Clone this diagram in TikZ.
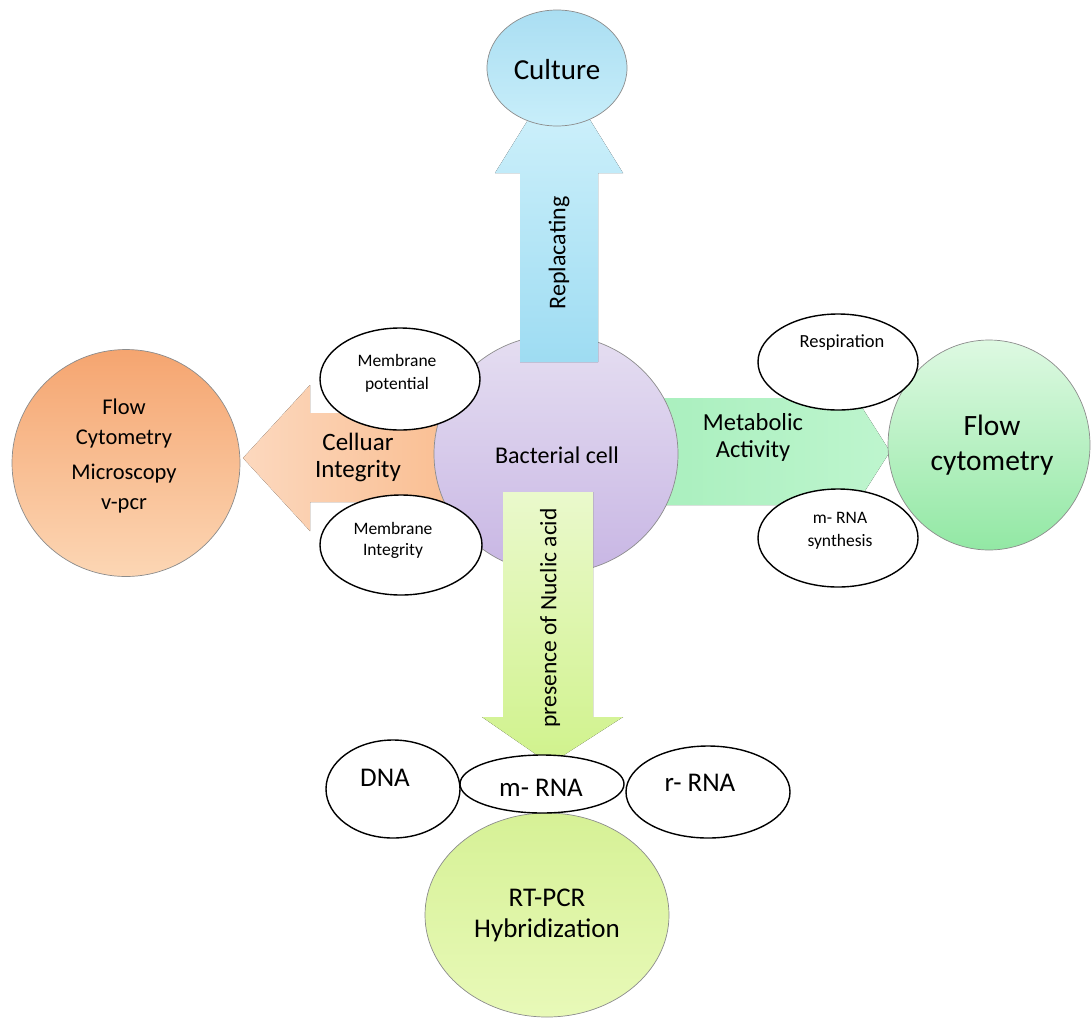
\documentclass[tikz,border=0pt]{standalone}
\usepackage{fontspec}
\setmainfont{Carlito}
\usetikzlibrary{shapes.geometric}
\newcommand{\fsz}[2]{\fontsize{#1}{#2}\selectfont}
\begin{document}
\begin{tikzpicture}[x=1pt,y=-1pt,
  bubble/.style={ellipse, draw=black, line width=1.4pt, fill=white, inner sep=0pt},
  colblob/.style={ellipse, draw=black!45, line width=0.7pt, inner sep=0pt, align=center},
  blockarrow/.style={draw=none},
  lbl/.style={inner sep=0pt, align=center, text=black}]
\fill[white] (0,0) rectangle (1091,1017);
\useasboundingbox (0,0) rectangle (1091,1017);

% arrows behind the cell
\fill[left color={rgb,255:red,252;green,216;blue,190}, right color={rgb,255:red,249;green,188;blue,142}, blockarrow]
  (243,458) -- (310,385) -- (310,413) -- (470,413) -- (470,502) -- (310,502) -- (310,531) -- cycle;
\fill[left color={rgb,255:red,168;green,239;blue,189}, right color={rgb,255:red,190;green,245;blue,206}, blockarrow]
  (640,398) -- (856,398) -- (890,451.5) -- (856,505) -- (640,505) -- cycle;

% big coloured circles
\node[colblob, minimum width=228pt, minimum height=227pt, top color={rgb,255:red,245;green,165;blue,112}, bottom color={rgb,255:red,252;green,214;blue,180}] (flowL) at (126,463) {};
\node[colblob, minimum width=202pt, minimum height=210pt, top color={rgb,255:red,222;green,249;blue,226}, bottom color={rgb,255:red,146;green,232;blue,164}] (flowR) at (989,445) {};
\node[colblob, minimum width=244pt, minimum height=238pt, top color={rgb,255:red,229;green,222;blue,241}, bottom color={rgb,255:red,200;green,182;blue,228}] (cell) at (556,454) {};

% up arrow
\fill[top color={rgb,255:red,212;green,243;blue,252}, bottom color={rgb,255:red,158;green,220;blue,242}, blockarrow]
  (520,362) -- (520,173) -- (495,173) -- (559,70) -- (623,173) -- (598,173) -- (598,362) -- cycle;
\node[colblob, minimum width=140pt, minimum height=116pt, top color={rgb,255:red,170;green,222;blue,242}, bottom color={rgb,255:red,200;green,238;blue,250}] (culture) at (557,68) {};

% down arrow
\fill[top color={rgb,255:red,234;green,249;blue,204}, bottom color={rgb,255:red,208;green,242;blue,140}, blockarrow]
  (503,492) -- (503,717) -- (482,717) -- (550,764) -- (623,717) -- (593,717) -- (593,492) -- cycle;
\node[colblob, minimum width=244pt, minimum height=204pt, top color={rgb,255:red,214;green,241;blue,150}, bottom color={rgb,255:red,232;green,249;blue,184}] (rtpcr) at (547,915) {};

% white bubbles
\node[bubble, minimum width=160pt, minimum height=102pt] (mempot) at (400,379) {};
\node[bubble, minimum width=162pt, minimum height=100pt] (memint) at (401,545) {};
\node[bubble, minimum width=160pt, minimum height=96pt] (resp) at (838,362) {};
\node[bubble, minimum width=160pt, minimum height=98pt] (mrnasyn) at (838,538) {};
\node[bubble, minimum width=134pt, minimum height=98pt] (dna) at (393,789) {};
\node[bubble, minimum width=164pt, minimum height=92pt] (rrna) at (708,792) {};
\node[bubble, minimum width=164pt, minimum height=58pt] (mrna) at (542,784) {};

% texts
\node[lbl, font=\fsz{29}{34}] (tCulture) at (557,70) {Culture};
\node[lbl, rotate=90, font=\fsz{24}{28}] (tRepl) at (559,253) {Replacating};
\node[lbl, font=\fsz{22.5}{30}] (tFlowL) at (124,456) {Flow\\Cytometry\\[5pt]Microscopy\\v-pcr};
\node[lbl, font=\fsz{24}{28}] (tCell) at (557,455) {Bacterial cell};
\node[lbl, font=\fsz{25}{27}] (tCellInt) at (358,457) {Celluar\\Integrity};
\node[lbl, font=\fsz{24.5}{27}] (tMeta) at (753,437) {Metabolic\\Activity};
\node[lbl, font=\fsz{29.5}{35}] (tFlowR) at (992,445) {Flow\\cytometry};
\node[lbl, rotate=90, font=\fsz{23.5}{28}] (tNuc) at (550,618) {presence of Nuclic acid};
\node[lbl, font=\fsz{27}{31}] (tRT) at (547,915) {RT-PCR\\Hybridization};
\node[lbl, font=\fsz{27}{31}] (tDNA) at (385,778) {DNA};
\node[lbl, font=\fsz{27}{31}] (tmRNA) at (541,788) {m- RNA};
\node[lbl, font=\fsz{27}{31}] (trRNA) at (700,783) {r- RNA};
\node[lbl, font=\fsz{18.5}{22}] (tResp) at (842,343) {Respiration};
\node[lbl, font=\fsz{17.5}{23}] (tSyn) at (840,531) {m- RNA\\synthesis};
\node[lbl, font=\fsz{17.5}{23}] (tPot) at (397,373) {Membrane\\potential};
\node[lbl, font=\fsz{17.5}{21}] (tInt) at (393,540) {Membrane\\Integrity};
\end{tikzpicture}
\end{document}
